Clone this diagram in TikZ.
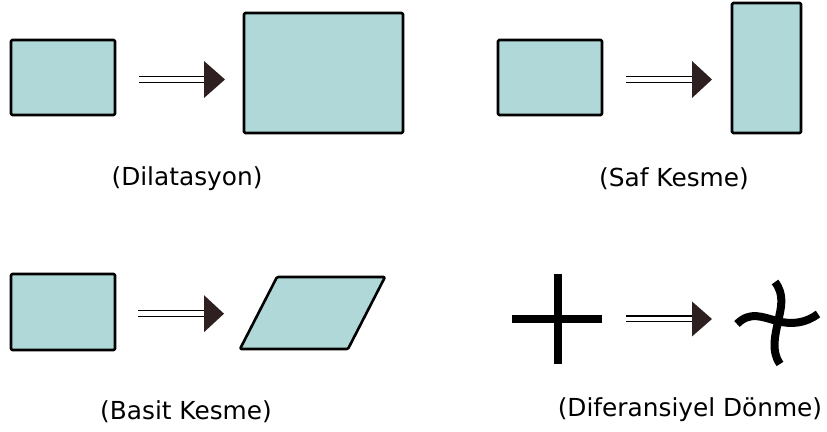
\documentclass[tikz,border=0pt]{standalone}
\usepackage{fontspec}
\setmainfont{DejaVu Sans}
\usepackage{xcolor}
\definecolor{tealfill}{HTML}{B1D8D8}
\definecolor{headcol}{HTML}{2E1F20}

\begin{document}
\begin{tikzpicture}[x=0.5pt,y=-0.5pt,font=\fontsize{12.4}{15}\selectfont,line join=round,
  box/.style={draw=black,fill=tealfill,line width=1.3pt,rounded corners=0.6pt},
  twin/.style={draw=black,double=white,double distance=2.2pt,line width=0.65pt},
  headfill/.style={fill=headcol},
  bar/.style={line width=4pt},
  twist/.style={line width=4pt}]
\useasboundingbox (0,0) rectangle (827,432);
% dilatasyon
\draw[box] (11,40) rectangle (115,115);
\draw[box] (244,13) rectangle (403,133);
\coordinate (d1) at (139,79.5);
\coordinate (d2) at (204,79.5);
\draw[twin] (d1) -- (d2);
\fill[headfill] (d2) -- ++(0,-18.5) -- ++(21,18.5) -- ++(-21,18.5) -- cycle;
\node (dil) at (187,178.5) {(Dilatasyon)};
% saf kesme
\draw[box] (498,40) rectangle (602,115);
\draw[box] (732,3) rectangle (801,133);
\coordinate (s1) at (626,79.5);
\coordinate (s2) at (692,79.5);
\draw[twin] (s1) -- (s2);
\fill[headfill] (s2) -- ++(0,-18.5) -- ++(20,18.5) -- ++(-20,18.5) -- cycle;
\node (saf) at (674,178.5) {(Saf Kesme)};
% basit kesme
\draw[box] (11,274) rectangle (115,350);
\draw[box] (277,277) -- (385,277) -- (348,349) -- (240,349) -- cycle;
\coordinate (b1) at (138,313.7);
\coordinate (b2) at (204,313.7);
\draw[twin] (b1) -- (b2);
\fill[headfill] (b2) -- ++(0,-18.5) -- ++(20,18.5) -- ++(-20,18.5) -- cycle;
\node (bas) at (186,411.5) {(Basit Kesme)};
% diferansiyel donme
\draw[bar] (512,319) -- (602,319);
\draw[bar] (557.5,274) -- (557.5,364);
\coordinate (r1) at (626,319);
\coordinate (r2) at (692,319);
\draw[twin] (r1) -- (r2);
\fill[headfill] (r2) -- ++(0,-17.5) -- ++(20,17.5) -- ++(-20,17.5) -- cycle;
\draw[twist] (737,324) .. controls (750,311) and (762,317) .. (777,321)
  .. controls (792,325) and (806,323) .. (818,314);
\draw[twist] (775,282) .. controls (785,295) and (781,308) .. (778,322)
  .. controls (775,336) and (771,351) .. (780,364);
\node (dif) at (690,410) {(Diferansiyel Dönme)};
\end{tikzpicture}
\end{document}
